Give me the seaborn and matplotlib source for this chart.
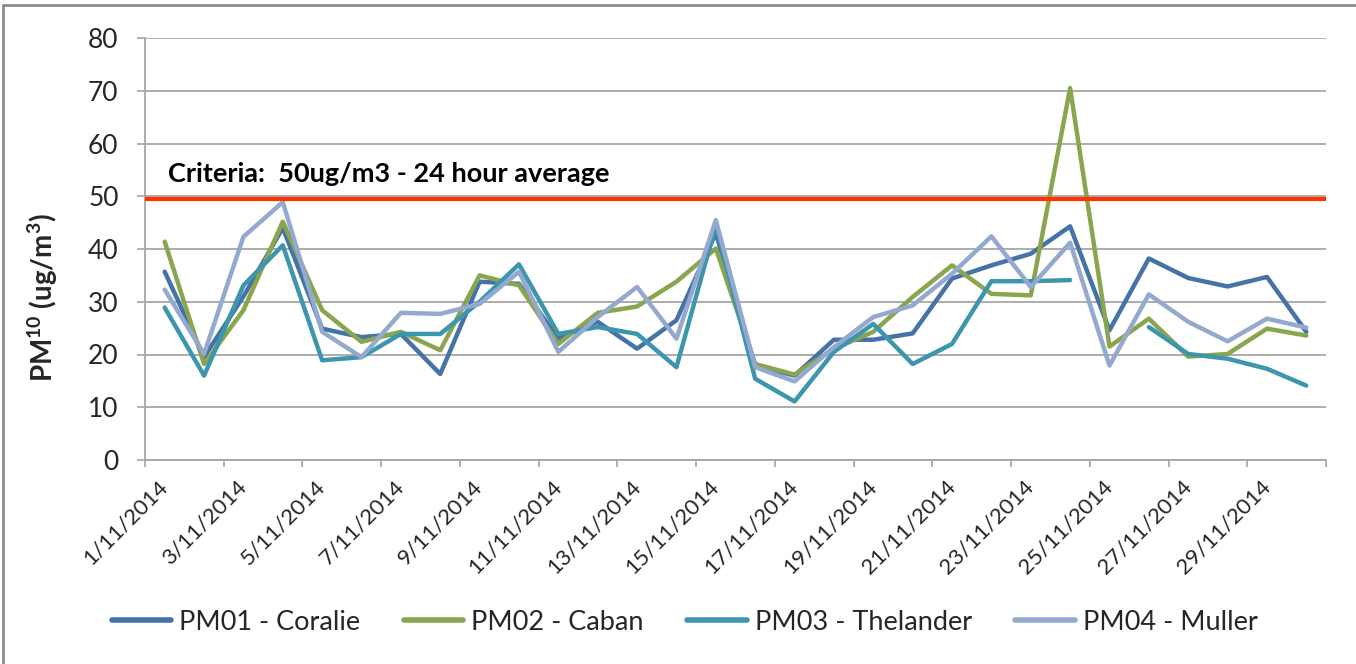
import numpy as np
import pandas as pd
import matplotlib
matplotlib.use('Agg')
import matplotlib.pyplot as plt
from matplotlib.lines import Line2D
import seaborn as sns

days = [f"{d}/11/2014" for d in range(1, 31)]
series_names = ['PM01 - Coralie', 'PM02 - Caban', 'PM03 - Thelander', 'PM04 - Muller']
pm01 = [35.7, 19.5, 31.0, 44.0, 24.9, 23.3, 23.9, 16.3, 33.8, 33.4,
        23.0, 26.2, 21.1, 26.5, 43.0, 17.9, 16.0, 22.8, 22.8, 24.0,
        34.4, 36.9, 39.1, 44.3, 24.6, 38.2, 34.5, 32.9, 34.7, 24.3]
pm02 = [41.4, 18.2, 28.4, 45.2, 28.4, 22.4, 24.3, 20.8, 35.0, 33.1,
        22.0, 27.9, 29.1, 33.8, 40.1, 18.2, 16.2, 21.1, 24.3, 30.9,
        36.9, 31.5, 31.2, 70.5, 21.5, 26.8, 19.6, 20.1, 24.9, 23.6]
pm03 = [28.9, 16.0, 33.1, 40.7, 18.9, 19.5, 23.9, 23.9, 30.0, 37.1,
        23.9, 25.2, 23.9, 17.6, 44.5, 15.4, 11.1, 20.5, 25.8, 18.2,
        22.0, 33.9, 33.9, 34.1, np.nan, 25.2, 20.1, 19.2, 17.3, 14.1]
pm04 = [32.3, 20.1, 42.3, 48.9, 24.3, 19.5, 27.9, 27.7, 29.6, 35.7,
        20.5, 27.1, 32.8, 23.0, 45.5, 17.6, 14.9, 21.4, 27.1, 29.3,
        35.3, 42.4, 32.8, 41.2, 17.9, 31.4, 26.2, 22.5, 26.8, 25.1]
criteria = 49.4
colors = ['#4572A7', '#89A54E', '#3D96AE', '#93A9CF']

sns.set_style('white')
plt.rcParams['font.family'] = ['Lato', 'DejaVu Sans']
plt.rcParams['mathtext.fontset'] = 'custom'
plt.rcParams['mathtext.rm'] = 'Lato'
plt.rcParams['mathtext.bf'] = 'Lato:bold'

# long table, with a segment id so gaps (NaN) stay broken
frames = []
for name, vals in zip(series_names, [pm01, pm02, pm03, pm04]):
    d = pd.DataFrame({'day': np.arange(len(days)), 'value': vals, 'series': name})
    d['segment'] = name + '_' + d['value'].isna().cumsum().astype(str)
    frames.append(d)
df = pd.concat(frames).dropna()

fig = plt.figure(figsize=(13.56, 6.64), dpi=100)
ax = fig.add_axes([145 / 1356, 1 - 460 / 664, 1181 / 1356, 422 / 664])

sns.lineplot(data=df, x='day', y='value', hue='series', units='segment',
             estimator=None, palette=colors, linewidth=3.2, ax=ax, legend=False,
             zorder=3)

ax.axhline(criteria, color='#FF3300', lw=3.0, zorder=4)
ax.text(0.08, 52.0, 'Criteria:  50ug/m3 - 24 hour average', fontsize=19.5,
        fontweight='bold', color='black', va='bottom', ha='left')

ax.set_xlim(-0.5, len(days) - 0.5)
ax.set_ylim(0, 80)
ax.set_yticks(range(0, 81, 10))
ax.grid(axis='y', color='#A6A6A6', lw=1.3)
ax.grid(axis='x', visible=False)

# tick marks between every second category, labels centred on odd days
ax.set_xticks(np.arange(-0.5, len(days), 2))
ax.set_xticklabels([])
ax.set_xticks(np.arange(0, len(days), 2), minor=True)
ax.set_xticklabels(days[::2], minor=True, rotation=45, ha='right',
                   va='center', rotation_mode='anchor', fontsize=16)
ax.tick_params(axis='x', which='major', length=5, width=1.2, color='#A6A6A6', bottom=True)
ax.tick_params(axis='x', which='minor', length=0, pad=17, colors='#262626', bottom=True)
ax.tick_params(axis='y', length=6, width=1.2, color='#A6A6A6', pad=13,
               labelsize=19, labelcolor='#262626', left=True)

for s in ['top', 'right']:
    ax.spines[s].set_visible(False)
for s in ['left', 'bottom']:
    ax.spines[s].set_color('#A6A6A6')
    ax.spines[s].set_linewidth(1.3)

ax.set_xlabel('')
ax.set_ylabel(r'PM$^{\mathbf{10}}$ (ug/m$^{\mathbf{3}}$)', fontsize=20,
              fontweight='bold')
ax.yaxis.set_label_coords(-0.072, 0.384)

handles = [Line2D([], [], color=c, lw=4) for c in colors]
fig.legend(handles, series_names, loc='center', bbox_to_anchor=(0.505, 0.063),
           ncol=4, frameon=False, fontsize=19.5, handlelength=2.2,
           handletextpad=0.3, columnspacing=1.6)

# chart area border (left and top edges visible)
fig.add_artist(Line2D([3 / 1356, 3 / 1356], [0, 1 - 5 / 664], transform=fig.transFigure,
                      color='#8C8C8C', lw=2))
fig.add_artist(Line2D([3 / 1356, 1], [1 - 5 / 664, 1 - 5 / 664], transform=fig.transFigure,
                      color='#8C8C8C', lw=2))

fig.savefig('out.png', dpi=100)
